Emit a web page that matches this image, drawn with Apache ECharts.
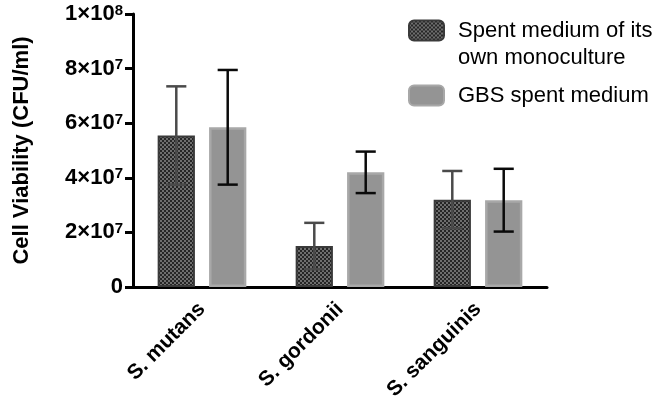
<!DOCTYPE html>
<html><head><meta charset="utf-8">
<script src="https://cdn.jsdelivr.net/npm/echarts@6/dist/echarts.min.js"></script>
<style>html,body{margin:0;padding:0;background:#fff}#c{width:656px;height:400px}</style>
</head><body><div id="c"></div><script>
// ---- data ----
const categories = ['S. mutans', 'S. gordonii', 'S. sanguinis'];
const seriesNames = ['Spent medium of its\nown monoculture', 'GBS spent medium'];
const ownMean = [5.55e7, 1.5e7, 3.2e7];
const ownErr = [1.8e7, 0.85e7, 1.05e7];
const gbsMean = [5.85e7, 4.2e7, 3.18e7];
const gbsErr = [2.1e7, 0.76e7, 1.15e7];
const yTickLabels = {0: '0', 20000000: '2×10|7', 40000000: '4×10|7', 60000000: '6×10|7', 80000000: '8×10|7', 100000000: '1×10|8'};

// ---- styles ----
const BAR_W = 0.27, GAP = 0.38;
const pc = document.createElement('canvas'); pc.width = 4; pc.height = 4;
const g = pc.getContext('2d');
g.fillStyle = '#262626'; g.fillRect(0, 0, 4, 4);
g.fillStyle = '#6e6e6e'; g.fillRect(0, 0, 2, 2); g.fillRect(2, 2, 2, 2);
const pattern = {image: pc, repeat: 'repeat'};

function errSeries(means, errs, sign, color) {
  return {
    type: 'custom', silent: true, z: 5,
    data: means.map((m, i) => [i, m - errs[i], m + errs[i]]),
    encode: {x: 0, y: [1, 2]},
    renderItem(params, api) {
      const bw = api.size([1, 0])[0];
      const off = sign * bw * BAR_W * (1 + GAP) / 2;
      const hi = api.coord([api.value(0), api.value(2)]);
      const lo = api.coord([api.value(0), api.value(1)]);
      const x = hi[0] + off, cap = bw * BAR_W * 0.27;
      const st = {stroke: color, lineWidth: 2.5};
      return {type: 'group', children: [
        {type: 'line', shape: {x1: x, y1: hi[1], x2: x, y2: lo[1]}, style: st},
        {type: 'line', shape: {x1: x - cap, y1: hi[1], x2: x + cap, y2: hi[1]}, style: st},
        {type: 'line', shape: {x1: x - cap, y1: lo[1], x2: x + cap, y2: lo[1]}, style: st}
      ]};
    }
  };
}

const FONT = '"Liberation Sans", Arial, sans-serif';
const chart = echarts.init(document.getElementById('c'));
chart.setOption({
  animation: false,
  textStyle: {fontFamily: FONT},
  grid: {left: 133, right: 109, top: 14, bottom: 113, containLabel: false, outerBoundsMode: 'none'},
  legend: [
    {data: [seriesNames[0]], left: 408, top: -10, padding: 0, itemWidth: 35, itemHeight: 20,
     formatter: n => ' \n' + n,
     textStyle: {fontSize: 22, lineHeight: 27, color: '#000', padding: [0, 0, 0, 9]}},
    {data: [seriesNames[1]], left: 408, top: 82, padding: 0, itemWidth: 35, itemHeight: 20,
     textStyle: {fontSize: 22, lineHeight: 27, color: '#000', padding: [0, 0, 0, 9]}}
  ],
  xAxis: {
    type: 'category', data: categories,
    axisLine: {lineStyle: {color: '#000', width: 3}},
    axisTick: {alignWithLabel: true, length: 7, lineStyle: {color: '#000', width: 3}},
    axisLabel: {rotate: 45, margin: 19, color: '#000', fontSize: 21, fontWeight: 'bold'}
  },
  yAxis: {
    type: 'value', min: 0, max: 1e8, interval: 2e7,
    name: 'Cell Viability (CFU/ml)', nameLocation: 'middle', nameGap: 100,
    nameTextStyle: {fontSize: 22, fontWeight: 'bold', color: '#000'},
    splitLine: {show: false},
    axisLine: {show: true, lineStyle: {color: '#000', width: 3}},
    axisTick: {show: true, length: 8, lineStyle: {color: '#000', width: 3}},
    axisLabel: {
      margin: 10, color: '#000', fontSize: 22, fontWeight: 'bold',
      formatter: v => {
        const s = yTickLabels[v];
        if (s.indexOf('|') < 0) return s;
        const p = s.split('|');
        return p[0] + '{s|' + p[1] + '}';
      },
      rich: {
        s: {fontSize: 15, fontWeight: 'bold', color: '#000', verticalAlign: 'top', fontFamily: FONT}
      }
    }
  },
  series: [
    {name: seriesNames[0], type: 'bar', data: ownMean, barWidth: (BAR_W * 100) + '%', barGap: (GAP * 100) + '%',
     itemStyle: {color: pattern, borderColor: '#3a3a3a', borderWidth: 2}},
    {name: seriesNames[1], type: 'bar', data: gbsMean, barWidth: (BAR_W * 100) + '%',
     itemStyle: {color: '#949494', borderColor: '#a8a8a8', borderWidth: 2.5}},
    errSeries(ownMean, ownErr, -1, '#4a4a4a'),
    errSeries(gbsMean, gbsErr, 1, '#0a0a0a')
  ]
});
</script></body></html>
